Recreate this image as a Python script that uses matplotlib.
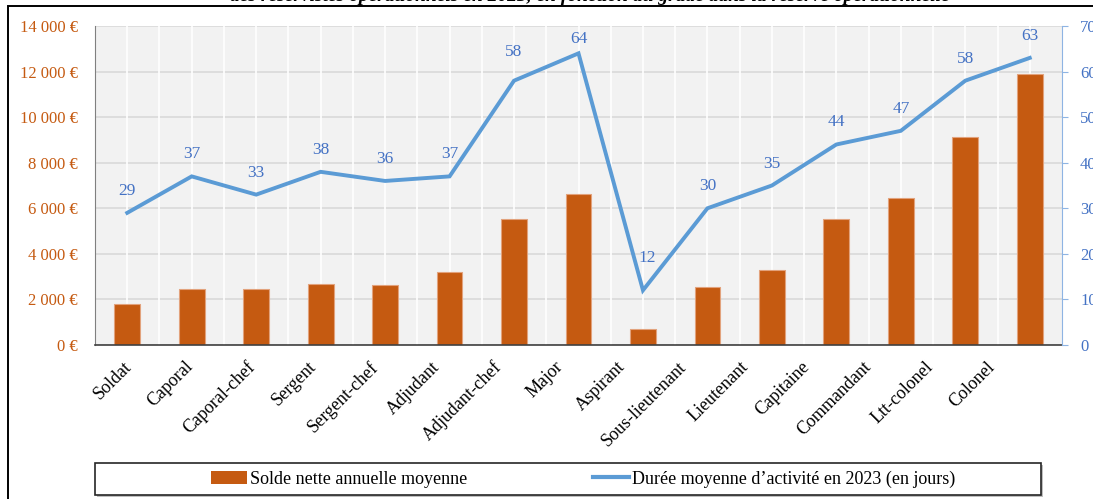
import matplotlib.pyplot as plt
from matplotlib.patches import Rectangle
from matplotlib.lines import Line2D
from matplotlib.ticker import FuncFormatter, MultipleLocator

plt.rcParams['font.family'] = ['Liberation Serif', 'DejaVu Serif']

grades = ['Soldat', 'Caporal', 'Caporal-chef', 'Sergent', 'Sergent-chef', 'Adjudant',
          'Adjudant-chef', 'Major', 'Aspirant', 'Sous-lieutenant', 'Lieutenant',
          'Capitaine', 'Commandant', 'Ltt-colonel', 'Colonel']
solde = [1800, 2450, 2450, 2670, 2640, 3210, 5510, 6620, 700, 2540, 3280, 5520, 6450, 9120, 11900]
duree = [29, 37, 33, 38, 36, 37, 58, 64, 12, 30, 35, 44, 47, 58, 63]

ORANGE = '#C55A11'
BLEU = '#5B9BD5'
BLEU_TXT = '#4472C4'

# décalage des étiquettes (px) quand elles ne sont pas à la place par défaut
decal = {6: (0, 29), 7: (0, 14), 8: (4, 32)}

W, H = 1093, 499
fig = plt.figure(figsize=(W / 100, H / 100), dpi=100)
ax = fig.add_axes([95 / W, 1 - 345 / H, (1062 - 95) / W, (345 - 26) / H])
ax.set_facecolor('#F2F2F2')

x = range(len(grades))
ax.set_xlim(-0.5, len(grades) - 0.5)
ax.set_ylim(0, 14000)
ax.yaxis.set_major_locator(MultipleLocator(2000))
ax.grid(axis='y', color='#D9D9D9', lw=1.2, zorder=1)
ax.set_axisbelow(True)
for k in range(2 * len(grades)):
    ax.axvline(k * 0.5 - 0.5, color='white', lw=1.2, zorder=1.5)

ax.bar(x, solde, width=0.4, color=ORANGE, edgecolor='#E2A27C', lw=0.8, zorder=2)

ax.yaxis.set_major_formatter(FuncFormatter(lambda v, p: '{:,.0f} €'.format(v).replace(',', ' ')))
ax.tick_params(axis='y', length=0, pad=12.5, labelsize=12, labelcolor=ORANGE)
ax.tick_params(axis='x', length=0, pad=9.5)
# étiquettes des grades un peu resserrées vers la gauche
ax.set_xticks([0.957 * i - 0.07 for i in x])
ax.set_xticklabels(grades, rotation=45, ha='right', va='top', rotation_mode='anchor', fontsize=13)
for s in ['top', 'right']:
    ax.spines[s].set_visible(False)
ax.spines['left'].set_color('#808080')
ax.spines['bottom'].set_color('#404040')
ax.spines['bottom'].set_linewidth(1.2)

ax2 = ax.twinx()
ax2.set_ylim(0, 70)
ax2.yaxis.set_major_locator(MultipleLocator(10))
ax2.plot(x, duree, color=BLEU, lw=2.8, zorder=3, solid_joinstyle='miter')
for i, d in enumerate(duree):
    dx, dy = decal.get(i, (0, 22))
    ax2.annotate(str(d), (i, d), xytext=(dx * 0.72, dy * 0.72), textcoords='offset points',
                 ha='center', va='center', color=BLEU_TXT, fontsize=12.5)
ax2.tick_params(axis='y', length=4, color='#8EB4E3', pad=9, labelsize=12, labelcolor=BLEU_TXT)
for s in ['top', 'left', 'bottom']:
    ax2.spines[s].set_visible(False)
ax2.spines['right'].set_color('#8EB4E3')

# cadre de la légende
lx0, ly0, lx1, ly1 = 95, 463, 1041, 495
fig.add_artist(Rectangle(((lx0 + 2) / W, 1 - (ly1 + 2) / H), (lx1 - lx0) / W, (ly1 - ly0) / H,
                         transform=fig.transFigure, fc='#BFBFBF', ec='none'))
fig.add_artist(Rectangle((lx0 / W, 1 - ly1 / H), (lx1 - lx0) / W, (ly1 - ly0) / H,
                         transform=fig.transFigure, fc='white', ec='#262626', lw=1.2))
handles = [Rectangle((0, 0), 1, 1, fc=ORANGE, ec='none'),
           Line2D([], [], color=BLEU, lw=3)]
labels = ['Solde nette annuelle moyenne', 'Durée moyenne d\u2019activité en 2023 (en jours)']
fig.legend(handles, labels, loc='center', bbox_to_anchor=((lx0 + lx1) / 2 / W + 15 / W, 1 - (ly0 + ly1) / 2 / H),
           ncol=2, frameon=False, fontsize=13, columnspacing=7.0, handlelength=2.0,
           handletextpad=0.15, handleheight=0.7)

# bordure et titre coupé en haut
fig.add_artist(Rectangle((8 / W, -0.1), 2, 1 - 6 / H + 0.1, transform=fig.transFigure,
                         fill=False, ec='black', lw=1.4))
fig.text(950 / W, 1 - 1 / H, 'des réservistes opérationnels en 2023, en fonction du grade dans la réserve opérationnelle',
         ha='right', va='baseline', fontsize=14, fontweight='bold', fontstyle='italic')

fig.savefig('out.png', dpi=100)
